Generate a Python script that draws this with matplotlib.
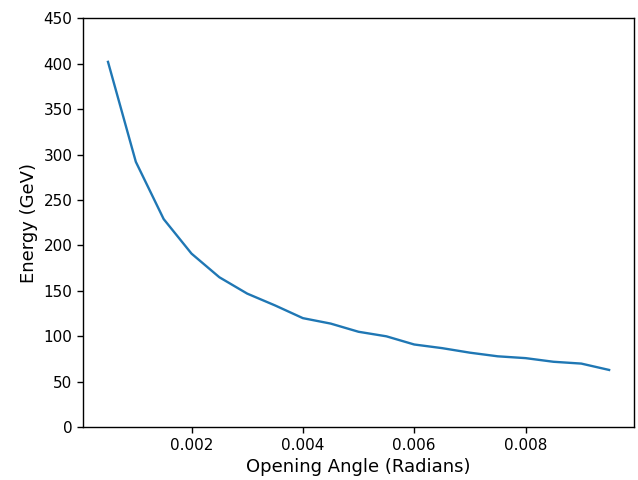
import numpy as np
import matplotlib
matplotlib.use("Agg")
import matplotlib.pyplot as plt

# opening angle (radians) and estimated energy (GeV)
angle = [0.0005, 0.0010, 0.0015, 0.0020, 0.0025, 0.0030, 0.0035, 0.0040, 0.0045, 0.0050,
         0.0055, 0.0060, 0.0065, 0.0070, 0.0075, 0.0080, 0.0085, 0.0090, 0.0095]
energy = [402, 292, 229, 191, 165, 147, 134, 120, 114, 105,
          100, 91, 87, 82, 78, 76, 72, 70, 63]

fig = plt.figure(figsize=(6.38, 4.8), dpi=100)
ax = fig.add_axes([0.130, 0.110, 0.864, 0.852])
ax.plot(angle, energy, lw=1.7)
ax.set_ylim(0, 450)
ax.set_xticks([0.002, 0.004, 0.006, 0.008])
ax.tick_params(labelsize=11, width=1.0, length=4)
for s in ax.spines.values():
    s.set_linewidth(1.0)
ax.set_xlabel('Opening Angle (Radians)', fontsize=13)
ax.set_ylabel('Energy (GeV)', fontsize=13)
fig.savefig('out.png')
